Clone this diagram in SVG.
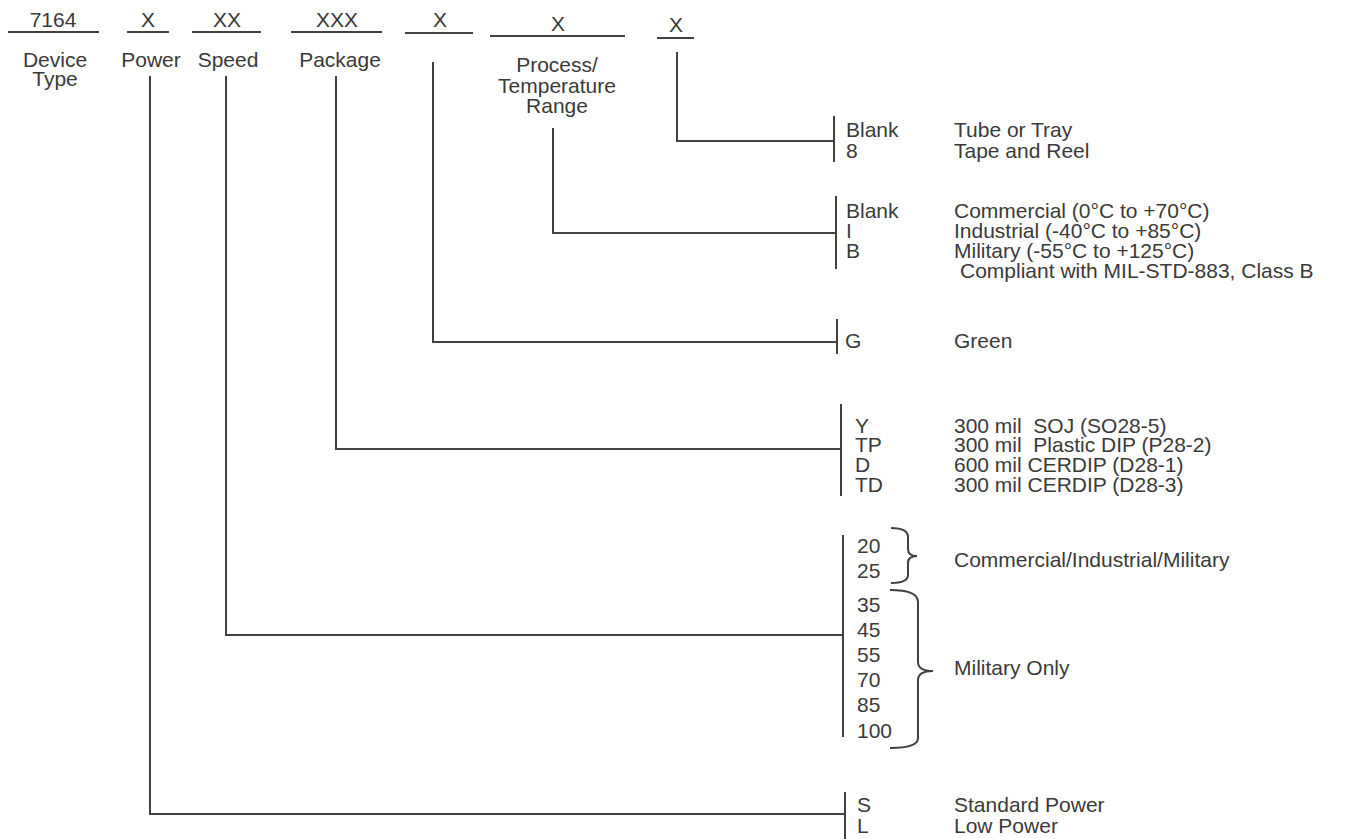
<svg xmlns="http://www.w3.org/2000/svg" width="1350" height="839" viewBox="0 0 1350 839">
<style>
text{font-family:"Liberation Sans",Arial,sans-serif;font-size:21px;fill:#3a3a38}
.c{text-anchor:middle}
.p{white-space:pre}
line,path{stroke:#41413e;stroke-width:2;fill:none}
</style>
<rect width="1350" height="839" fill="#fff"/>
<g id="fields">
<g id="f-device"><text class="c" x="53" y="27">7164</text><line x1="8" y1="32" x2="99" y2="32"/><text class="c" x="55" y="67">Device</text><text class="c" x="55" y="86">Type</text></g>
<g id="f-power"><text class="c" x="148" y="27">X</text><line x1="127" y1="32" x2="169" y2="32"/><text class="c" x="151" y="67">Power</text></g>
<g id="f-speed"><text class="c" x="227" y="27">XX</text><line x1="192" y1="32" x2="261" y2="32"/><text class="c" x="228" y="67">Speed</text></g>
<g id="f-package"><text class="c" x="337" y="27">XXX</text><line x1="291" y1="32" x2="382" y2="32"/><text class="c" x="340" y="67">Package</text></g>
<g id="f-green"><text class="c" x="440" y="27">X</text><line x1="405" y1="33" x2="473" y2="33"/></g>
<g id="f-process"><text class="c" x="558" y="31">X</text><line x1="490" y1="36" x2="625" y2="36"/><text class="c" x="557" y="72">Process/</text><text class="c" x="557" y="93">Temperature</text><text class="c" x="557" y="113">Range</text></g>
<g id="f-pack"><text class="c" x="676" y="32">X</text><line x1="657" y1="38" x2="694" y2="38"/></g>
</g>
<g id="connectors">
<path d="M150,76 V814 H845"/>
<path d="M226,76 V635 H843"/>
<path d="M336,76 V449 H841"/>
<path d="M433,62 V342 H837"/>
<path d="M553,128 V233 H836"/>
<path d="M677,52 V141 H834"/>
</g>
<g id="opt-packing">
<line x1="834" y1="116" x2="834" y2="162"/>
<text x="846" y="137">Blank</text><text x="846" y="158">8</text>
<text x="954" y="137">Tube or Tray</text><text x="954" y="158">Tape and Reel</text>
</g>
<g id="opt-temp">
<line x1="836" y1="196" x2="836" y2="269"/>
<text x="846" y="218">Blank</text><text x="846" y="238">I</text><text x="846" y="258">B</text>
<text x="954" y="218">Commercial (0°C to +70°C)</text>
<text x="954" y="238">Industrial (-40°C to +85°C)</text>
<text x="954" y="258">Military (-55°C to +125°C)</text>
<text x="960" y="278">Compliant with MIL-STD-883, Class B</text>
</g>
<g id="opt-green">
<line x1="837" y1="319" x2="837" y2="354"/>
<text x="845" y="348">G</text><text x="954" y="348">Green</text>
</g>
<g id="opt-package">
<line x1="841" y1="404" x2="841" y2="496"/>
<text x="855" y="433">Y</text><text x="855" y="452">TP</text><text x="855" y="472">D</text><text x="855" y="492">TD</text>
<text class="p" x="954" y="433" xml:space="preserve">300 mil  SOJ (SO28-5)</text>
<text class="p" x="954" y="452" xml:space="preserve">300 mil  Plastic DIP (P28-2)</text>
<text x="954" y="472">600 mil CERDIP (D28-1)</text>
<text x="954" y="492">300 mil CERDIP (D28-3)</text>
</g>
<g id="opt-speed">
<line x1="843" y1="535" x2="843" y2="737"/>
<text x="857" y="553">20</text><text x="857" y="578">25</text>
<text x="857" y="612">35</text><text x="857" y="637">45</text><text x="857" y="662">55</text><text x="857" y="687">70</text><text x="857" y="712">85</text><text x="857" y="738">100</text>
<path d="M891,528 Q908,528 908,537 V549 Q908,556 917,556 M917,556 Q908,556 908,563 V575 Q908,583 891,583"/>
<path d="M890,590 Q918,590 918,602 V662 Q918,671 933,671 M933,671 Q918,671 918,680 V738 Q918,748 890,748"/>
<text x="954" y="567">Commercial/Industrial/Military</text>
<text x="954" y="675">Military Only</text>
</g>
<g id="opt-power">
<line x1="845" y1="792" x2="845" y2="839"/>
<text x="857" y="812">S</text><text x="857" y="833">L</text>
<text x="954" y="812">Standard Power</text><text x="954" y="833">Low Power</text>
</g>
</svg>
